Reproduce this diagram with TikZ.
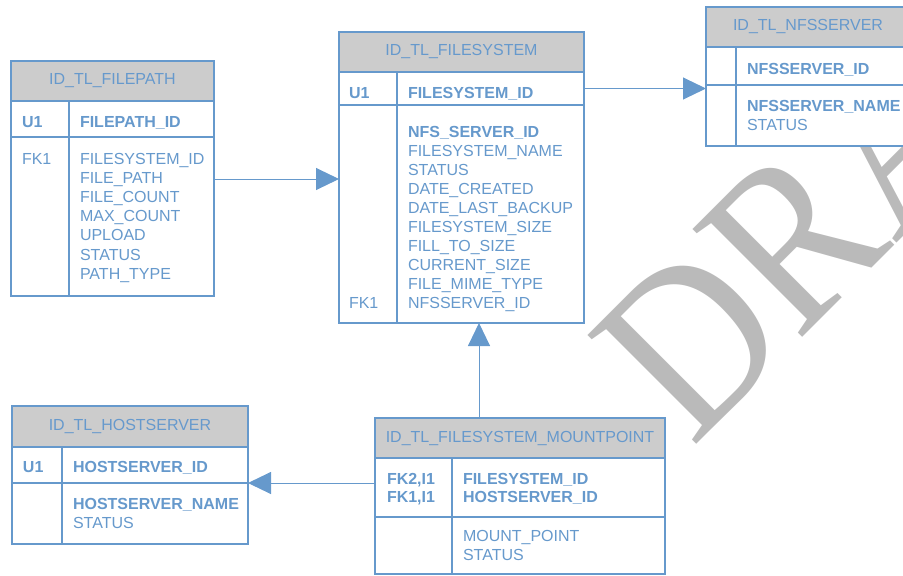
\documentclass[tikz,border=0pt]{standalone}
\usepackage{fontspec}
\setmainfont{Liberation Sans}
\newfontfamily\wmfont{Liberation Serif}
\usetikzlibrary{positioning,arrows.meta}
\definecolor{erblue}{RGB}{102,153,204}
\definecolor{hdrgray}{RGB}{204,204,204}
\definecolor{wmgray}{RGB}{186,186,186}

\begin{document}
\begin{tikzpicture}[x=1pt, y=-1pt, inner sep=0pt, outer sep=0pt,
  tblhead/.style={draw=erblue, fill=hdrgray, line width=1.6pt, minimum height=40pt,
    text=erblue, font=\fontsize{16}{19}\selectfont, anchor=north west},
  tblrow/.style={draw=erblue, fill=white, line width=1.6pt},
  tblline/.style={draw=erblue, line width=1.6pt},
  fld/.style={anchor=base west, text=erblue, font=\fontsize{16}{19}\selectfont},
  keyfld/.style={fld, font=\fontsize{16}{19}\selectfont\bfseries},
  link/.style={draw=erblue, line width=1pt, -{Triangle[length=23pt,width=22pt]}},
  wmark/.style={text=wmgray, font=\wmfont\fontsize{235}{235}\selectfont, rotate=45, xscale=0.88, anchor=base west}]
  \useasboundingbox (0,0) rectangle (903,576);
  \clip (0,0) rectangle (903,576);

  % watermark behind the tables
  \node[wmark] (draft) at (692,448) {DRAFT};

  % ID_TL_FILEPATH
  \node[tblhead, minimum width=203pt] (fp) at (11,61) {ID\_TL\_FILEPATH};
  \node[tblrow, minimum width=203pt, minimum height=36pt, below=0pt of fp] (fp-key) {};
  \node[tblrow, minimum width=203pt, minimum height=159pt, below=0pt of fp-key] (fp-body) {};
  \draw[tblline] ([xshift=58pt]fp-key.north west) -- ([xshift=58pt]fp-body.south west);
  \node[keyfld] (fp-u1) at (22,127) {U1};
  \node[keyfld] (fp-id) at (80,127) {FILEPATH\_ID};
  \node[fld] (fp-fk1) at (22,164) {FK1};
  \foreach \f [count=\i from 0] in {FILESYSTEM\_ID, FILE\_PATH, FILE\_COUNT, MAX\_COUNT,
      UPLOAD, STATUS, PATH\_TYPE}
    \node[fld] (fp-f\i) at (80,164+19.2*\i) {\f};

  % ID_TL_FILESYSTEM
  \node[tblhead, minimum width=245pt] (fs) at (339,32) {ID\_TL\_FILESYSTEM};
  \node[tblrow, minimum width=245pt, minimum height=33pt, below=0pt of fs] (fs-key) {};
  \node[tblrow, minimum width=245pt, minimum height=218pt, below=0pt of fs-key] (fs-body) {};
  \draw[tblline] ([xshift=58pt]fs-key.north west) -- ([xshift=58pt]fs-body.south west);
  \node[keyfld] (fs-u1) at (349,98) {U1};
  \node[keyfld] (fs-id) at (408,98) {FILESYSTEM\_ID};
  \node[keyfld] (fs-nfs) at (408,137) {NFS\_SERVER\_ID};
  \foreach \f [count=\i] in {FILESYSTEM\_NAME, STATUS, DATE\_CREATED, DATE\_LAST\_BACKUP,
      FILESYSTEM\_SIZE, FILL\_TO\_SIZE, CURRENT\_SIZE, FILE\_MIME\_TYPE, NFSSERVER\_ID}
    \node[fld] (fs-f\i) at (408,137+19*\i) {\f};
  \node[fld] (fs-fk1) at (349,308) {FK1};

  % ID_TL_NFSSERVER
  \node[tblhead, minimum width=204pt] (nfs) at (706,7) {ID\_TL\_NFSSERVER};
  \node[tblrow, minimum width=204pt, minimum height=38pt, below=0pt of nfs] (nfs-key) {};
  \node[tblrow, minimum width=204pt, minimum height=61pt, below=0pt of nfs-key] (nfs-body) {};
  \draw[tblline] ([xshift=30pt]nfs-key.north west) -- ([xshift=30pt]nfs-body.south west);
  \node[keyfld] (nfs-id) at (747,74) {NFSSERVER\_ID};
  \node[keyfld] (nfs-name) at (747,111) {NFSSERVER\_NAME};
  \node[fld] (nfs-status) at (747,130) {STATUS};

  % ID_TL_HOSTSERVER
  \node[tblhead, minimum width=236pt, minimum height=41pt] (hs) at (12,406) {ID\_TL\_HOSTSERVER};
  \node[tblrow, minimum width=236pt, minimum height=36pt, below=0pt of hs] (hs-key) {};
  \node[tblrow, minimum width=236pt, minimum height=61pt, below=0pt of hs-key] (hs-body) {};
  \draw[tblline] ([xshift=50pt]hs-key.north west) -- ([xshift=50pt]hs-body.south west);
  \node[keyfld] (hs-u1) at (23,472) {U1};
  \node[keyfld] (hs-id) at (73,472) {HOSTSERVER\_ID};
  \node[keyfld] (hs-name) at (73,509) {HOSTSERVER\_NAME};
  \node[fld] (hs-status) at (73,528) {STATUS};

  % ID_TL_FILESYSTEM_MOUNTPOINT
  \node[tblhead, minimum width=290pt] (mp) at (375,418) {ID\_TL\_FILESYSTEM\_MOUNTPOINT};
  \node[tblrow, minimum width=290pt, minimum height=59pt, below=0pt of mp] (mp-key) {};
  \node[tblrow, minimum width=290pt, minimum height=57pt, below=0pt of mp-key] (mp-body) {};
  \draw[tblline] ([xshift=77pt]mp-key.north west) -- ([xshift=77pt]mp-body.south west);
  \node[keyfld] (mp-fk2) at (387,484) {FK2,I1};
  \node[keyfld] (mp-fk1) at (387,502) {FK1,I1};
  \node[keyfld] (mp-fsid) at (463,484) {FILESYSTEM\_ID};
  \node[keyfld] (mp-hsid) at (463,502) {HOSTSERVER\_ID};
  \node[fld] (mp-point) at (463,541) {MOUNT\_POINT};
  \node[fld] (mp-status) at (463,560) {STATUS};

  % relations
  \draw[link] ([yshift=-42pt]fp-body.north east) -- ([yshift=-42pt]fp-body.north east -| fs-body.west);
  \draw[link] (fs-key.east) -- (fs-key.east -| nfs-key.west);
  \draw[link] ([xshift=104pt]mp.north west) -- ([xshift=104pt]mp.north west |- fs-body.south);
  \draw[link] (hs-key.south east -| mp-key.west) -- (hs-key.south east);
\end{tikzpicture}
\end{document}
